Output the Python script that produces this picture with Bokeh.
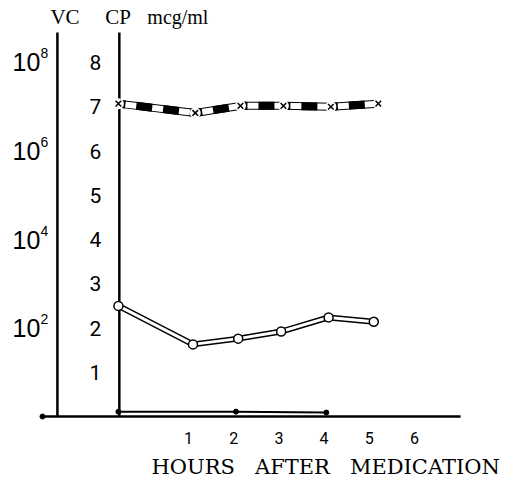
from bokeh.plotting import figure
from bokeh.models import Range1d, FixedTicker, Title
from bokeh.core.properties import value
from bokeh.embed import file_html
from bokeh.resources import INLINE

# ---------------- data ----------------
hour_ticks = [1, 2, 3, 4, 5, 6]
cp_ticks = [1, 2, 3, 4, 5, 6, 7, 8]
vc_tick_pos = [2, 4, 6, 8]
vc_exponents = ["2", "4", "6", "8"]

cross_hours = [-0.55, 1.15, 2.15, 3.1, 4.15, 5.2]
cross_cp = [7.07, 6.86, 7.02, 7.02, 7.0, 7.07]

circle_hours = [-0.55, 1.1, 2.1, 3.05, 4.1, 5.1]
circle_cp = [2.5, 1.63, 1.76, 1.92, 2.24, 2.14]

dot_hours = [-0.55, 2.05, 4.05]
dot_cp = [0.11, 0.11, 0.09]

# ---------------- layout constants ----------------
VC_X = -1.90      # VC axis position (hours scale)
CP_X = -0.53      # CP axis position
X_LEFT = -2.23
X_RIGHT = 7.02
AXIS_TOP = 8.68
TITLE_Y = 9.02
NB = "\u00a0"

p = figure(width=506, height=485,
           x_range=Range1d(-3.159, 8.036), y_range=Range1d(-0.203, 9.401),
           output_backend="svg", toolbar_location=None,
           y_axis_location=None,
           min_border_left=0, min_border_right=0, min_border_top=0, min_border_bottom=0,
           background_fill_color="white", border_fill_color="white")
p.outline_line_color = None
p.xgrid.visible = False
p.ygrid.visible = False

ax = p.xaxis[0]
ax.ticker = FixedTicker(ticks=hour_ticks)
ax.axis_line_color = None
ax.major_tick_line_color = None
ax.minor_tick_line_color = None
ax.major_label_text_font = "Roboto"
ax.major_label_text_font_size = "16px"
ax.major_label_text_color = "black"
ax.major_label_standoff = 0

p.add_layout(Title(text=f"HOURS{NB*3}AFTER{NB*3}MEDICATION{NB}", align="right", standoff=13,
                   text_font="DejaVu Serif", text_font_size="21px",
                   text_font_style="normal", text_color="black"), "below")

# axes lines
p.segment(x0=[VC_X, CP_X, X_LEFT], y0=[0, 0, 0],
          x1=[VC_X, CP_X, X_RIGHT], y1=[AXIS_TOP, AXIS_TOP, 0],
          line_color="black", line_width=2.5)
p.scatter(x=[X_LEFT], y=[0], size=5, color="black")

# CP tick labels
p.text(x=[CP_X] * len(cp_ticks), y=cp_ticks, text=[str(t) for t in cp_ticks],
       text_font=value("Roboto"), text_font_size="21px", text_color="black",
       text_align="center", text_baseline="middle", x_offset=-24)

# VC tick labels (10^n)
p.text(x=[VC_X] * len(vc_tick_pos), y=vc_tick_pos, text=["10"] * len(vc_tick_pos),
       text_font=value("Liberation Sans"), text_font_size="25px", text_color="black",
       text_align="right", text_baseline="middle", x_offset=-17)
p.text(x=[VC_X] * len(vc_tick_pos), y=vc_tick_pos, text=vc_exponents,
       text_font=value("Liberation Sans"), text_font_size="14px", text_color="black",
       text_align="left", text_baseline="middle", x_offset=-17, y_offset=-9)

# axis titles
p.text(x=[VC_X], y=[TITLE_Y], text=["VC"], text_font=value("Liberation Serif"),
       text_font_size="21px", text_color="black", text_align="left",
       text_baseline="middle", x_offset=-7)
p.text(x=[CP_X], y=[TITLE_Y], text=["CP"], text_font=value("Liberation Serif"),
       text_font_size="21px", text_color="black", text_align="left",
       text_baseline="middle", x_offset=-14)
p.text(x=[CP_X], y=[TITLE_Y], text=["mcg/ml"], text_font=value("Liberation Serif"),
       text_font_size="20px", text_color="black", text_align="left",
       text_baseline="middle", x_offset=28)

# cross series: banded line with black/white blocks
p.segment(x0=cross_hours[:-1], y0=cross_cp[:-1], x1=cross_hours[1:], y1=cross_cp[1:],
          line_color="black", line_width=8)
p.segment(x0=cross_hours[:-1], y0=cross_cp[:-1], x1=cross_hours[1:], y1=cross_cp[1:],
          line_color="white", line_width=6)
p.segment(x0=cross_hours[:-1], y0=cross_cp[:-1], x1=cross_hours[1:], y1=cross_cp[1:],
          line_color="black", line_width=8, line_dash="16 11", line_dash_offset=-18)
p.scatter(x=cross_hours, y=cross_cp, marker="circle", size=11, fill_color="white",
          line_color=None)
p.scatter(x=cross_hours, y=cross_cp, marker="x", size=8, line_color="black",
          line_width=1.5)

# circle series: hollow band
p.line(x=circle_hours, y=circle_cp, line_color="black", line_width=6)
p.line(x=circle_hours, y=circle_cp, line_color="white", line_width=3)
p.scatter(x=circle_hours, y=circle_cp, marker="circle", size=9, fill_color="white",
          line_color="black", line_width=1.5)

# dot series near baseline
p.line(x=dot_hours, y=dot_cp, line_color="black", line_width=2)
p.scatter(x=dot_hours, y=dot_cp, marker="circle", size=5, color="black")

open("out.html", "w").write(file_html(p, INLINE))
